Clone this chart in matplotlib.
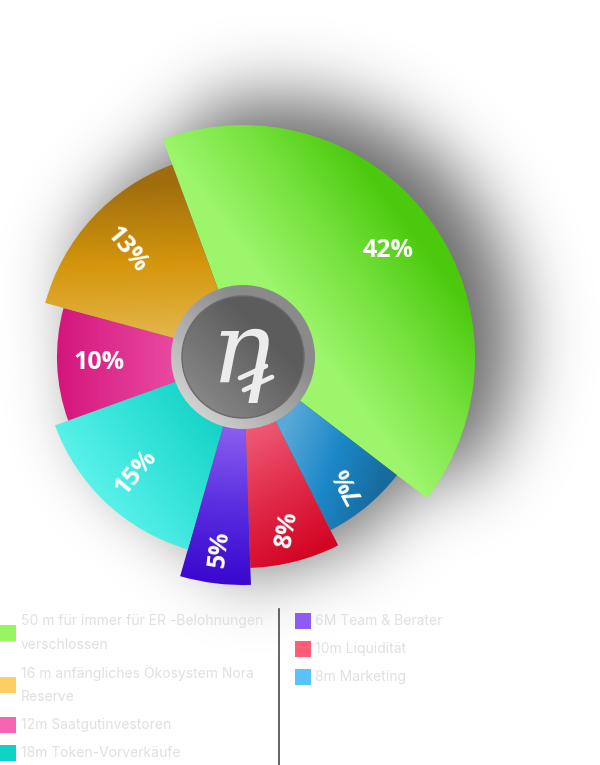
import numpy as np
import matplotlib
matplotlib.use("Agg")
import matplotlib.pyplot as plt
from matplotlib.patches import Wedge, Circle, Rectangle
from matplotlib.colors import LinearSegmentedColormap
from matplotlib.lines import Line2D

# slices, clockwise from the top-left edge of the big green one
pct_labels = ["42%", "7%", "8%", "5%", "15%", "10%", "13%"]
spans_deg = [147.7, 25.7, 24.8, 18.0, 54.0, 35.3, 54.5]   # angular size
radii_px = [232, 194, 211, 228, 200, 186, 205]            # outer radius of each slice

legend_left = [["50 m für immer für ER -Belohnungen", "verschlossen"],
               ["16 m anfängliches Ökosystem Nora", "Reserve"],
               ["12m Saatgutinvestoren"],
               ["18m Token-Vorverkäufe"]]
legend_right = ["6M Team & Berater", "10m Liquidität", "8m Marketing"]
legend_left_colors = ["#99f462", "#fdcf62", "#f764b6", "#0dd2c5"]
legend_right_colors = ["#8b5cf6", "#ff5c78", "#5bc1f9"]

W, H = 600, 765
CX, CY = 243, 357          # pie centre in pixel coordinates (y down)
START = 110.2              # angle of the first edge (degrees, math convention)

# gradient per slice: (light point px, dark point px, colour stops)
grads = [
    ((295, 318), (415, 229), ["#9cf56b", "#76e23e", "#4ac90d"]),
    ((285, 430), (390, 470), ["#58a8d8", "#1c88c8", "#176a9c"]),
    ((250, 430), (320, 560), ["#ee5a72", "#e02848", "#d2001e"]),
    ((225, 430), (215, 580), ["#8a5cf0", "#5a2ee0", "#3a08cf"]),
    ((75, 505), (220, 400), ["#66f7ef", "#38e4da", "#0fd0c3"]),
    ((58, 360), (228, 360), ["#d4167c", "#e43c98", "#f35fb0"]),
    ((205, 345), (200, 180), ["#e6ba52", "#d4960c", "#9f6d0e"]),
]

def Y(y):
    return H - y

fig = plt.figure(figsize=(6, 7.65), dpi=100)
ax = fig.add_axes([0, 0, 1, 1])
ax.set_xlim(0, W)
ax.set_ylim(0, H)
ax.axis("off")

# ---- soft drop shadow: blurred copy of the pie, shifted up/right
yy, xx = np.mgrid[0:H, 0:W].astype(float)
sx, sy, scale = 32, -20, 1.03
dx = (xx - CX - sx) / scale
dy = -(yy - CY - sy) / scale
rr = np.hypot(dx, dy)
th = np.degrees(np.arctan2(dy, dx))
rel = (START - th) % 360
cum = np.cumsum(spans_deg)
idx = np.clip(np.searchsorted(cum, rel, side="right"), 0, len(radii_px) - 1)
mask = (rr <= np.array(radii_px)[idx]).astype(float)

s = 36
k = np.exp(-0.5 * (np.arange(-3 * s, 3 * s + 1) / s) ** 2)
k /= k.sum()
blur = np.apply_along_axis(lambda m: np.convolve(m, k, mode="same"), 0, mask)
blur = np.apply_along_axis(lambda m: np.convolve(m, k, mode="same"), 1, blur)
shadow = np.zeros((H, W, 4))
shadow[..., 3] = 0.6 * blur
ax.imshow(shadow, extent=[0, W, 0, H], origin="upper", zorder=0, interpolation="bilinear")

# ---- slices with linear gradients
gx, gy = np.meshgrid(np.arange(W) + 0.5, np.arange(H) + 0.5)
a0 = START
for i, (span, r) in enumerate(zip(spans_deg, radii_px)):
    a1 = a0 - span
    wedge = Wedge((CX, Y(CY)), r, a1, a0, facecolor="none", edgecolor="none")
    ax.add_patch(wedge)
    (lx, ly), (dxp, dyp), stops = grads[i]
    cmap = LinearSegmentedColormap.from_list(f"g{i}", stops)
    vx, vy = dxp - lx, dyp - ly
    t = ((gx - lx) * vx + (gy - ly) * vy) / (vx * vx + vy * vy)
    im = ax.imshow(cmap(np.clip(t, 0, 1)), extent=[0, W, 0, H], origin="upper",
                   zorder=2, interpolation="bilinear")
    im.set_clip_path(wedge)
    a0 = a1

# ---- percentage labels
label_r = [180, 166, 178, 193, 157, 144, 158]
label_rot = [0, 118, 80, 83, 50, 0, -51]
a0 = START
for i, span in enumerate(spans_deg):
    mid = np.radians(a0 - span / 2)
    ax.text(CX + label_r[i] * np.cos(mid), Y(CY) + label_r[i] * np.sin(mid), pct_labels[i],
            color="white", fontsize=18, fontweight="bold", family="Open Sans",
            ha="center", va="center", rotation=label_rot[i], rotation_mode="anchor", zorder=5)
    a0 -= span

# ---- centre badge
ring = Circle((CX, Y(CY)), 72, facecolor="none", edgecolor="none")
ax.add_patch(ring)
t = ((gx - 180) * 1 + (gy - 420) * -1) / 180.0
ring_cmap = LinearSegmentedColormap.from_list("ring", ["#dcdcdc", "#b2b2b2", "#8a8a8a"])
im = ax.imshow(ring_cmap(np.clip(t, 0, 1)), extent=[0, W, 0, H], origin="upper",
               zorder=6, interpolation="bilinear")
im.set_clip_path(ring)

disk = Circle((CX, Y(CY)), 61, facecolor="none", edgecolor="#6a6a6a", linewidth=1.0, zorder=8)
ax.add_patch(disk)
t = ((gx - 190) * 1 + (gy - 410) * -1) / 150.0
disk_cmap = LinearSegmentedColormap.from_list("disk", ["#8c8c8c", "#747474", "#5c5c5c"])
im = ax.imshow(disk_cmap(np.clip(t, 0, 1)), extent=[0, W, 0, H], origin="upper",
               zorder=7, interpolation="bilinear")
im.set_clip_path(disk)

ax.text(CX - 2, Y(CY) + 2, "η", family="DejaVu Serif", style="italic", fontsize=72,
        color="#ececec", ha="center", va="center", zorder=9)
for (x0, y0), (x1, y1) in [((240, 378), (266, 366)), ((244, 390), (272, 377))]:
    ax.add_line(Line2D([x0, x1], [Y(y0), Y(y1)], color="#ececec", linewidth=3.4,
                       solid_capstyle="round", zorder=9))

# ---- legend
txt_kw = dict(color="#e0e0e0", fontsize=10, family="Inter", va="center", ha="left", zorder=5)
left_y = [621, 673, 725, 753]
for lines, col, y in zip(legend_left, legend_left_colors, left_y):
    yc = y + 12 * (len(lines) - 1)
    ax.add_patch(Rectangle((0, Y(yc) - 8), 16, 16, facecolor=col, edgecolor="none", zorder=5))
    for j, line in enumerate(lines):
        ax.text(21, Y(y + 24 * j), line, **txt_kw)

right_y = [621, 649, 677]
for lab, col, y in zip(legend_right, legend_right_colors, right_y):
    ax.add_patch(Rectangle((295, Y(y) - 8), 16, 16, facecolor=col, edgecolor="none", zorder=5))
    ax.text(315, Y(y), lab, **txt_kw)

ax.add_line(Line2D([278.5, 278.5], [Y(609), 0], color="#4a4a4a", linewidth=1.2, zorder=5))

fig.savefig("out.png", dpi=100)
